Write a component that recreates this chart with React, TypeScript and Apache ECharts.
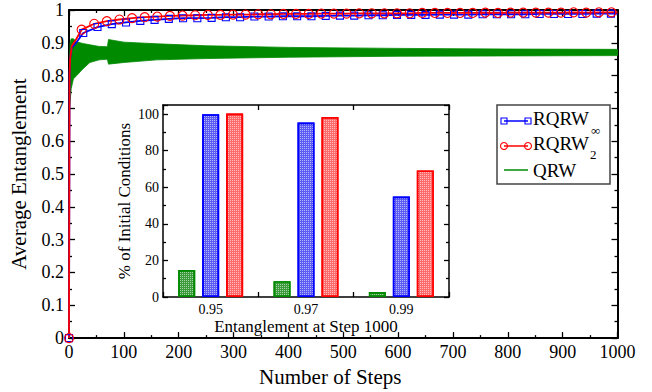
import React, { useEffect, useRef } from 'react';
import * as echarts from 'echarts';

// ---------- Main plot data ----------
// RQRW_2 (red circles)
const redMarkSteps = [0, 23, 46, 69, 92, 115, 138, 161, 184, 207, 230, 253, 276, 299, 322, 345, 368, 391, 414, 437, 460, 483, 506, 529, 552, 575, 598, 621, 644, 667, 690, 713, 736, 759, 782, 805, 828, 851, 874, 897, 920, 943, 966, 989];
const redMarkVals = [0, 0.940, 0.958, 0.966, 0.971, 0.975, 0.978, 0.980, 0.982, 0.983, 0.984, 0.985, 0.985, 0.986, 0.986, 0.987, 0.987, 0.988, 0.988, 0.988, 0.989, 0.989, 0.989, 0.990, 0.990, 0.990, 0.990, 0.990, 0.991, 0.991, 0.991, 0.991, 0.991, 0.992, 0.991, 0.992, 0.992, 0.992, 0.992, 0.992, 0.993, 0.992, 0.993, 0.993];
const redEarlySteps = [1, 2, 5, 12];
const redEarlyVals = [0.80, 0.85, 0.89, 0.908];
const redEndStep = 1000;
const redEndVal = 0.993;

// RQRW_inf (blue squares)
const blueMarkSteps = [0, 26, 52, 78, 104, 130, 156, 182, 208, 234, 260, 286, 312, 338, 364, 390, 416, 442, 468, 494, 520, 546, 572, 598, 624, 650, 676, 702, 728, 754, 780, 806, 832, 858, 884, 910, 936, 962, 988];
const blueMarkVals = [0, 0.930, 0.948, 0.957, 0.962, 0.967, 0.970, 0.973, 0.975, 0.975, 0.976, 0.978, 0.978, 0.980, 0.980, 0.981, 0.981, 0.981, 0.982, 0.983, 0.983, 0.984, 0.984, 0.985, 0.985, 0.985, 0.986, 0.986, 0.986, 0.987, 0.987, 0.987, 0.987, 0.988, 0.988, 0.988, 0.988, 0.989, 0.989];
const blueEarlySteps = [1, 2, 5, 12];
const blueEarlyVals = [0.80, 0.85, 0.885, 0.898];
const blueEndStep = 1000;
const blueEndVal = 0.989;

// QRW (green oscillating band: lower / upper envelope)
const qrwSteps = [0, 1, 2, 4, 8, 14, 25, 38, 55, 70, 72, 100, 160, 250, 400, 600, 800, 1000];
const qrwLower = [0, 0.70, 0.72, 0.76, 0.79, 0.80, 0.82, 0.84, 0.848, 0.850, 0.835, 0.840, 0.848, 0.852, 0.856, 0.859, 0.860, 0.861];
const qrwUpper = [0, 0.85, 0.90, 0.912, 0.912, 0.903, 0.898, 0.894, 0.889, 0.888, 0.910, 0.902, 0.897, 0.891, 0.886, 0.883, 0.881, 0.880];

const xTicks = [0, 100, 200, 300, 400, 500, 600, 700, 800, 900, 1000];

// ---------- Inset data ----------
const insetCats = ['0.95', '0.97', '0.99'];
const insetQRW = [14.8, 8.6, 2.7];
const insetInf = [100, 95.4, 54.9];
const insetTwo = [100.3, 98.4, 69.2];

const FONT = 'Liberation Serif';
const RED = '#ff0000';
const BLUE = '#0000ff';
const GREEN = '#008a00';

function buildLine(markSteps: number[], markVals: number[], earlySteps: number[], earlyVals: number[], endStep: number, endVal: number) {
  const pts: any[] = [];
  markSteps.forEach((s, i) => pts.push({ value: [s, markVals[i]] }));
  earlySteps.forEach((s, i) => pts.push({ value: [s, earlyVals[i]], symbol: 'none' }));
  pts.push({ value: [endStep, endVal], symbol: 'none' });
  pts.sort((a, b) => a.value[0] - b.value[0]);
  return pts;
}

const hatch = {
  symbol: 'rect', symbolSize: 1, dashArrayX: [1, 1], dashArrayY: [1, 1], rotation: 0,
  color: 'rgba(255,255,255,0.55)',
};

export default function App() {
  const ref = useRef<HTMLDivElement>(null);
  useEffect(() => {
    const chart = echarts.init(ref.current!, null, { renderer: 'svg' });
    const axisLineStyle = { color: '#000', width: 2 };
    const tickStyle = { color: '#000', width: 1.3 };
    const mainValueX = {
      type: 'value', gridIndex: 0, min: xTicks[0], max: xTicks[xTicks.length - 1], interval: 100,
      axisLine: { show: true, onZero: false, lineStyle: axisLineStyle },
      axisTick: { show: true, inside: true, length: 6, lineStyle: tickStyle },
      minorTick: { show: true, splitNumber: 2, length: 3, lineStyle: tickStyle },
      splitLine: { show: false },
    };
    const mainValueY = {
      type: 'value', gridIndex: 0, min: 0, max: 1, interval: 0.1,
      axisLine: { show: true, onZero: false, lineStyle: axisLineStyle },
      axisTick: { show: true, inside: true, length: 6, lineStyle: tickStyle },
      minorTick: { show: true, splitNumber: 2, length: 3, lineStyle: tickStyle },
      splitLine: { show: false },
    };
    const insetCatX = {
      type: 'category', gridIndex: 1, data: insetCats,
      axisLine: { show: true, onZero: false, lineStyle: { color: '#000', width: 1.5 } },
      axisTick: { show: true, inside: true, length: 5, lineStyle: tickStyle },
      splitLine: { show: false },
    };
    const insetValY = {
      type: 'value', gridIndex: 1, min: 0, max: 105, interval: 20,
      axisLine: { show: true, onZero: false, lineStyle: { color: '#000', width: 1.5 } },
      axisTick: { show: true, inside: true, length: 5, lineStyle: tickStyle },
      minorTick: { show: true, splitNumber: 2, length: 3, lineStyle: tickStyle },
      splitLine: { show: false },
    };
    const txt = (x: number, y: number, text: string, size: number) => ({
      type: 'text', x, y,
      style: { text, fontFamily: FONT, fontSize: size, fill: '#000', verticalAlign: 'middle', align: 'left' },
    });

    const option: any = {
      animation: false,
      backgroundColor: '#fff',
      textStyle: { fontFamily: FONT },
      grid: [
        { left: 67, top: 10, width: 550.5, height: 335, containLabel: false },
        { left: 163, top: 105, width: 286, height: 192, containLabel: false },
      ],
      xAxis: [
        {
          ...mainValueX, position: 'bottom',
          axisLabel: { show: true, margin: 5, fontSize: 18, color: '#000', fontFamily: FONT, formatter: (v: number) => String(v) },
          name: 'Number of Steps', nameLocation: 'middle', nameGap: 22,
          nameTextStyle: { fontSize: 21, color: '#000', fontFamily: FONT, padding: [0, 26, 0, 0] },
        },
        { ...mainValueX, position: 'top', axisLabel: { show: false } },
        {
          ...insetCatX, position: 'bottom',
          axisLabel: { show: true, margin: 5, fontSize: 14, color: '#000', fontFamily: FONT },
          name: 'Entanglement at Step 1000', nameLocation: 'middle', nameGap: 21,
          nameTextStyle: { fontSize: 17, color: '#000', fontFamily: FONT },
        },
        { ...insetCatX, position: 'top', axisLabel: { show: false } },
      ],
      yAxis: [
        {
          ...mainValueY, position: 'left',
          axisLabel: { show: true, margin: 5, fontSize: 18, color: '#000', fontFamily: FONT },
          name: 'Average Entanglement', nameLocation: 'middle', nameGap: 40,
          nameTextStyle: { fontSize: 21, color: '#000', fontFamily: FONT },
        },
        { ...mainValueY, position: 'right', axisLabel: { show: false } },
        {
          ...insetValY, position: 'left',
          axisLabel: { show: true, margin: 4, fontSize: 14, color: '#000', fontFamily: FONT, showMaxLabel: false },
          name: '% of Initial Conditions', nameLocation: 'middle', nameGap: 30,
          nameTextStyle: { fontSize: 17, color: '#000', fontFamily: FONT },
        },
        { ...insetValY, position: 'right', axisLabel: { show: false } },
      ],
      series: [
        {
          name: 'QRW', type: 'custom', xAxisIndex: 0, yAxisIndex: 0,
          data: qrwSteps.map((s, i) => [s, qrwLower[i], qrwUpper[i]]),
          encode: { x: 0, y: [1, 2] },
          clip: true,
          renderItem: (params: any, api: any) => {
            if (params.dataIndex !== 0) return null;
            const top = qrwSteps.map((s, i) => api.coord([s, qrwUpper[i]]));
            const bottom = qrwSteps.map((s, i) => api.coord([s, qrwLower[i]])).reverse();
            return {
              type: 'polygon',
              shape: { points: top.concat(bottom) },
              style: { fill: GREEN, stroke: GREEN, lineWidth: 0.8 },
            };
          },
        },
        {
          name: 'RQRW_inf', type: 'line', xAxisIndex: 0, yAxisIndex: 0,
          data: buildLine(blueMarkSteps, blueMarkVals, blueEarlySteps, blueEarlyVals, blueEndStep, blueEndVal),
          symbol: 'rect', symbolSize: 7, showAllSymbol: true,
          lineStyle: { color: BLUE, width: 1.8 },
          itemStyle: { color: 'rgba(0,0,0,0)', borderColor: BLUE, borderWidth: 1.1 },
        },
        {
          name: 'RQRW_2', type: 'line', xAxisIndex: 0, yAxisIndex: 0,
          data: buildLine(redMarkSteps, redMarkVals, redEarlySteps, redEarlyVals, redEndStep, redEndVal),
          symbol: 'circle', symbolSize: 9, showAllSymbol: true,
          lineStyle: { color: RED, width: 1.8 },
          itemStyle: { color: 'rgba(0,0,0,0)', borderColor: RED, borderWidth: 1.1 },
        },
        {
          name: 'bar-QRW', type: 'bar', xAxisIndex: 2, yAxisIndex: 2, data: insetQRW,
          barWidth: 17, barGap: '41%',
          itemStyle: { color: '#3c9c3c', borderColor: GREEN, borderWidth: 1.6, decal: hatch },
        },
        {
          name: 'bar-inf', type: 'bar', xAxisIndex: 2, yAxisIndex: 2, data: insetInf,
          barWidth: 17, barGap: '41%',
          itemStyle: { color: '#5c5cf5', borderColor: BLUE, borderWidth: 1.6, decal: hatch },
        },
        {
          name: 'bar-two', type: 'bar', xAxisIndex: 2, yAxisIndex: 2, data: insetTwo,
          barWidth: 17, barGap: '41%',
          itemStyle: { color: '#ff6a6a', borderColor: RED, borderWidth: 1.6, decal: hatch },
        },
      ],
      graphic: [
        {
          type: 'group', z: 100, children: [
            { type: 'rect', shape: { x: 497, y: 105, width: 113, height: 79 }, style: { fill: '#fff', stroke: '#444', lineWidth: 1.5 } },
            { type: 'line', shape: { x1: 504, y1: 121, x2: 528, y2: 121 }, style: { stroke: BLUE, lineWidth: 1.5 } },
            { type: 'rect', shape: { x: 501, y: 118, width: 6, height: 6 }, style: { fill: 'none', stroke: BLUE, lineWidth: 1.1 } },
            { type: 'rect', shape: { x: 525, y: 118, width: 6, height: 6 }, style: { fill: 'none', stroke: BLUE, lineWidth: 1.1 } },
            txt(533, 118, 'RQRW', 19),
            txt(591, 130, '∞', 13),
            { type: 'line', shape: { x1: 504, y1: 146, x2: 528, y2: 146 }, style: { stroke: RED, lineWidth: 1.5 } },
            { type: 'circle', shape: { cx: 504, cy: 146, r: 3.5 }, style: { fill: 'none', stroke: RED, lineWidth: 1.1 } },
            { type: 'circle', shape: { cx: 528, cy: 146, r: 3.5 }, style: { fill: 'none', stroke: RED, lineWidth: 1.1 } },
            txt(533, 143, 'RQRW', 19),
            txt(590, 154, '2', 13),
            { type: 'line', shape: { x1: 504, y1: 170, x2: 528, y2: 170 }, style: { stroke: GREEN, lineWidth: 1.5 } },
            txt(533, 170, 'QRW', 19),
          ],
        },
      ],
    };
    chart.setOption(option);
    return () => chart.dispose();
  }, []);
  return <div ref={ref} style={{ position: 'fixed', left: 0, top: 0, width: 652, height: 392, background: '#fff' }} />;
}
